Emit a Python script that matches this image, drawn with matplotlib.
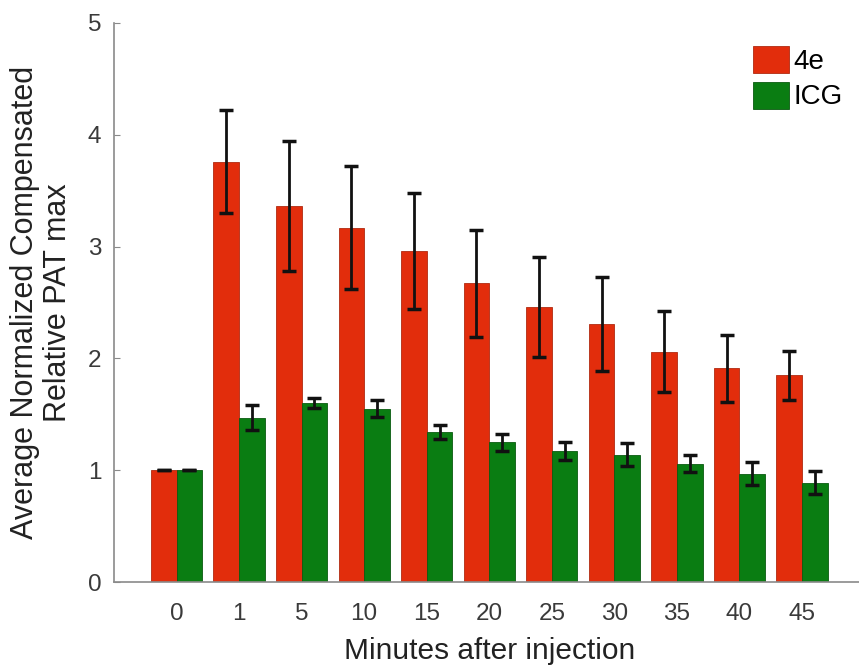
import matplotlib
matplotlib.use('Agg')
import matplotlib.pyplot as plt
import numpy as np

plt.rcParams['font.family'] = ['Liberation Sans', 'DejaVu Sans']

minutes = ['0', '1', '5', '10', '15', '20', '25', '30', '35', '40', '45']
vals_4e = [1.0, 3.76, 3.36, 3.17, 2.96, 2.67, 2.46, 2.31, 2.06, 1.91, 1.85]
err_4e = [0.0, 0.46, 0.58, 0.55, 0.52, 0.48, 0.45, 0.42, 0.36, 0.30, 0.22]
vals_icg = [1.0, 1.47, 1.60, 1.55, 1.34, 1.25, 1.17, 1.14, 1.06, 0.97, 0.89]
err_icg = [0.0, 0.11, 0.045, 0.075, 0.06, 0.075, 0.08, 0.10, 0.08, 0.10, 0.10]

red = '#e22d0c'
green = '#0a7d12'
grey = '#8a8a8a'

fig = plt.figure(figsize=(8.59, 6.68), dpi=100)
ax = fig.add_axes([0.1327, 0.1287, 0.8738, 0.8369])

x = np.arange(1, len(minutes) + 1)
w = 0.41

ax.bar(x - w / 2, vals_4e, w, color=red, edgecolor='#b02a10', linewidth=0.6, label='4e')
ax.bar(x + w / 2, vals_icg, w, color=green, edgecolor='#0a5a10', linewidth=0.6, label='ICG')
ax.errorbar(x - w / 2, vals_4e, yerr=err_4e, fmt='none', ecolor='#111111',
            elinewidth=2, capsize=5, capthick=2.5)
ax.errorbar(x + w / 2, vals_icg, yerr=err_icg, fmt='none', ecolor='#111111',
            elinewidth=2, capsize=5, capthick=2.5)

ax.set_xlim(0, 12)
ax.set_ylim(0, 5)
ax.set_xticks(x)
ax.set_xticklabels(minutes)
ax.set_yticks([0, 1, 2, 3, 4, 5])

for s in ['top', 'right']:
    ax.spines[s].set_visible(False)
for s in ['left', 'bottom']:
    ax.spines[s].set_color(grey)
    ax.spines[s].set_linewidth(1.2)

ax.tick_params(axis='y', direction='in', length=4, color=grey, labelsize=17.5,
               labelcolor='#3a3a3a', pad=9)
ax.tick_params(axis='x', direction='in', length=0, labelsize=17.5,
               labelcolor='#3a3a3a', pad=15)

ax.set_xlabel('Minutes after injection', fontsize=21.5, color='#222222', labelpad=9)
ax.set_ylabel('Average Normalized Compensated\nRelative PAT max', fontsize=22,
              color='#222222', labelpad=11, linespacing=1.1)

ax.legend(loc='upper left', bbox_to_anchor=(0.851, 0.958), frameon=False,
          fontsize=20, handlelength=1.3, handleheight=1.12, handletextpad=0.15,
          labelspacing=0.22, borderpad=0, borderaxespad=0)

fig.savefig('out.png', dpi=100)
